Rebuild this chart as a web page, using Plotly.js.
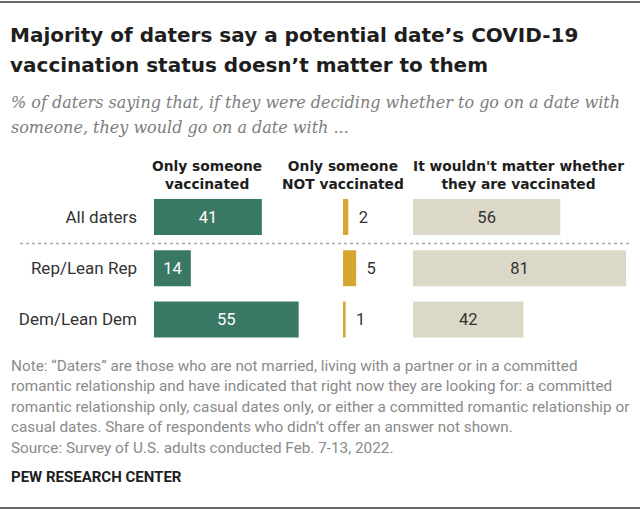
<!DOCTYPE html>
<html><head><meta charset="utf-8">
<script src="https://cdn.plot.ly/plotly-3.0.1.min.js"></script>
<style>html,body{margin:0;padding:0;background:#fff}#chart{width:640px;height:512px}</style>
</head><body><div id="chart"></div>
<script>
// data
const groups=["All daters","Rep/Lean Rep","Dem/Lean Dem"];
const onlyVaxed=[41,14,55];
const onlyUnvaxed=[2,5,1];
const noMatter=[56,81,42];
const colHeads=["Only someone<br>vaccinated","Only someone<br>NOT vaccinated","It wouldn't matter whether<br>they are vaccinated"];
const titleLines=["Majority of daters say a potential date’s COVID-19","vaccination status doesn’t matter to them"];
const subLines=["% of daters saying that, if they were deciding whether to go on a date with","someone, they would go on a date with ..."];
const noteLines=["Note: “Daters” are those who are not married, living with a partner or in a committed",
  "romantic relationship and have indicated that right now they are looking for: a committed",
  "romantic relationship only, casual dates only, or either a committed romantic relationship or",
  "casual dates. Share of respondents who didn’t offer an answer not shown.",
  "Source: Survey of U.S. adults conducted Feb. 7-13, 2022."];
const credit="PEW RESEARCH CENTER";

const C={green:"#3a7866",gold:"#d5a731",beige:"#dbd8c7",ink:"#1e1e1e",grey:"#8a8a8a"};
const F="Roboto, 'Liberation Sans', sans-serif";
const FB="'DejaVu Sans', sans-serif";
const px=x=>x/640, py=y=>1-y/512;
const K=2.63; // px per percentage point
const panels=[[154,300],[343,400],[413,632]];
const heads=[207,343,518];

const mk=(vals,ax,color,pos,tcol,tpl)=>({type:"bar",orientation:"h",y:groups,x:vals,xaxis:ax,yaxis:"y",
  marker:{color:color},text:vals.map(String),texttemplate:tpl,textposition:pos,insidetextanchor:"middle",textangle:0,
  textfont:{family:F,size:16.5,color:tcol},constraintext:"none",cliponaxis:false,hoverinfo:"skip"});
const data=[mk(onlyVaxed,"x",C.green,"inside","#fff","%{text}"),
  mk(onlyUnvaxed,"x2",C.gold,"outside","#333","\u00a0\u2009%{text}"),
  mk(noMatter,"x3",C.beige,"inside","#333","%{text}")];

const ann=[];
titleLines.forEach((t,i)=>ann.push({text:"<b>"+t+"</b>",x:px(8),y:py(35+i*30),xanchor:"left",yanchor:"middle",
  font:{family:FB,size:20,color:C.ink}}));
subLines.forEach((t,i)=>ann.push({text:"<i>"+t+"</i>",x:px(9),y:py(102+i*25),xanchor:"left",yanchor:"middle",
  font:{family:"'DejaVu Serif', serif",size:16,color:"#7d7d7d"}}));
colHeads.forEach((t,i)=>ann.push({text:"<b>"+t+"</b>",x:px(heads[i]),y:py(175),xanchor:"center",yanchor:"middle",
  font:{family:FB,size:13.8,color:C.ink}}));
noteLines.forEach((t,i)=>ann.push({text:t,x:px(9),y:py(366+i*20.4),xanchor:"left",yanchor:"middle",
  font:{family:F,size:15.3,color:C.grey}}));
ann.push({text:"<b>"+credit+"</b>",x:px(9),y:py(477),xanchor:"left",yanchor:"middle",font:{family:F,size:15,color:C.ink}});
ann.forEach(a=>{a.xref="paper";a.yref="paper";a.showarrow=false;});

const xa=i=>({domain:[px(panels[i][0]),px(panels[i][1])],range:[0,(panels[i][1]-panels[i][0])/K],
  visible:false,fixedrange:true,anchor:"y"});
const layout={width:640,height:512,margin:{l:0,r:0,t:0,b:0},paper_bgcolor:"#fff",plot_bgcolor:"rgba(0,0,0,0)",
  showlegend:false,bargap:0.3,
  xaxis:xa(0),xaxis2:xa(1),xaxis3:xa(2),
  yaxis:{domain:[py(345.1),py(191.4)],range:[2.5,-0.5],type:"category",showgrid:false,zeroline:false,
    showline:false,ticks:"",ticklabelstandoff:16,anchor:"x",tickfont:{family:F,size:17,color:"#333"}},
  annotations:ann,
  shapes:[
    {type:"line",xref:"paper",yref:"paper",x0:0,x1:1,y0:py(2),y1:py(2),line:{color:"#333",width:1.5}},
    {type:"line",xref:"paper",yref:"paper",x0:0,x1:1,y0:py(508),y1:py(508),line:{color:"#333",width:1.5}},
    {type:"line",xref:"paper",yref:"paper",x0:px(20),x1:px(632),y0:py(243.5),y1:py(243.5),line:{color:"#aaa",width:1.5,dash:"dot"}}
  ]};
Plotly.newPlot("chart",data,layout,{displayModeBar:false,staticPlot:true});
</script></body></html>
